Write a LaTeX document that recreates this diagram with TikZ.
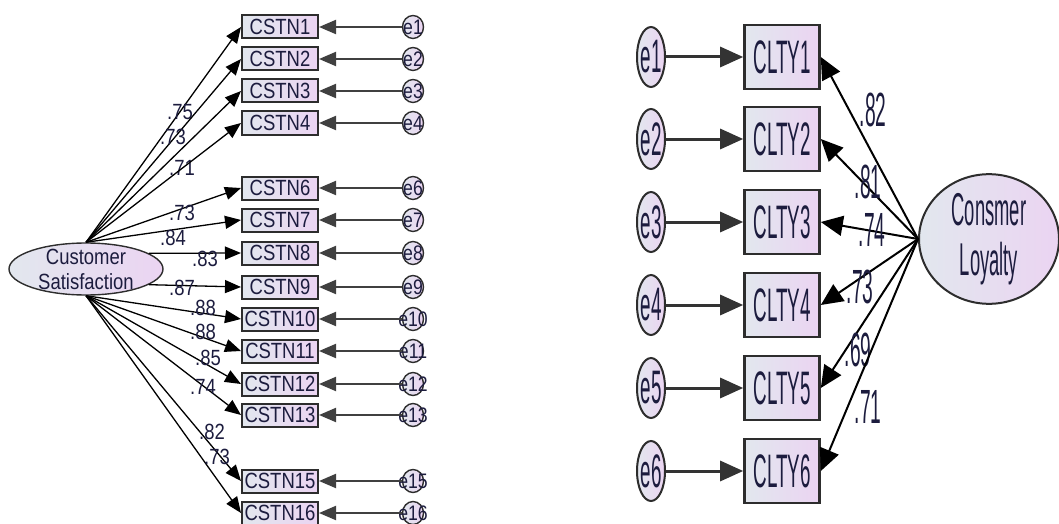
\documentclass[tikz,border=0pt]{standalone}
\usepackage{fontspec}
\usetikzlibrary{arrows.meta,shapes.geometric}
\newfontfamily\amosfont[FakeStretch=0.84]{Liberation Sans}
\newfontfamily\amostall[FakeStretch=0.4]{Liberation Sans}
\definecolor{boxl}{RGB}{226,231,238}
\definecolor{boxr}{RGB}{235,212,242}
\definecolor{ink}{RGB}{28,28,62}
\definecolor{rim}{RGB}{45,45,45}
\begin{document}
\begin{tikzpicture}[x=1pt, y=-1pt,
  obs/.style={rectangle, draw=rim, line width=2pt, left color=boxl, right color=boxr,
    minimum width=76pt, minimum height=23pt, inner sep=0pt, text=ink,
    font=\amosfont\fontsize{22}{24}\selectfont},
  err/.style={ellipse, draw=rim, line width=1.4pt, left color=boxl, right color=boxr,
    minimum width=21pt, minimum height=23pt, inner sep=0pt, inner xsep=-10pt, text=ink,
    font=\amosfont\fontsize{21}{22}\selectfont},
  lat/.style={ellipse, draw=rim, line width=1.4pt, left color=boxl, right color=boxr,
    minimum width=154pt, minimum height=52pt, inner sep=0pt, inner ysep=-8pt, align=center,
    text=ink, font=\amosfont\fontsize{22}{25}\selectfont},
  wt/.style={inner sep=0pt, text=ink, font=\amosfont\fontsize{22}{22}\selectfont},
  lod/.style={-{Triangle[length=16pt,width=13pt]}, line width=1.3pt, draw=black},
  res/.style={-{Triangle[length=17pt,width=14pt]}, line width=2pt, draw=black!75},
  obsb/.style={obs, line width=2.6pt, minimum width=75pt, minimum height=64pt,
    font=\amostall\fontsize{47}{50}\selectfont},
  errb/.style={err, line width=2pt, minimum width=28pt, minimum height=60pt, inner xsep=-4pt,
    font=\amostall\fontsize{47}{50}\selectfont},
  latb/.style={lat, line width=2pt, minimum width=140pt, minimum height=128pt, inner ysep=0pt,
    font=\amostall\fontsize{46}{50}\selectfont},
  wtb/.style={wt, font=\amostall\fontsize{48}{50}\selectfont},
  lodb/.style={-{Triangle[length=22pt,width=20pt]}, line width=2pt, draw=black},
  resb/.style={-{Triangle[length=23pt,width=20pt]}, line width=3pt, draw=black!80}]
  \useasboundingbox (0,0) rectangle (1059,524);

  % customer satisfaction
  \node[lat] (sat) at (86,269) {Customer\\Satisfaction};

  \node[obs] (cstn1) at (280,27) {CSTN1};
  \node[err] (es1) at (413,27) {e1};
  \path (es1) edge[res] (cstn1);
  \path (sat.north) edge[lod] (cstn1.west);
  \node[wt] (ws1) at (180,112) {.75};

  \node[obs] (cstn2) at (280,59) {CSTN2};
  \node[err] (es2) at (413,59) {e2};
  \path (es2) edge[res] (cstn2);
  \path (sat.north) edge[lod] (cstn2.west);
  \node[wt] (ws2) at (173,137) {.73};

  \node[obs] (cstn3) at (280,91) {CSTN3};
  \node[err] (es3) at (413,91) {e3};
  \path (es3) edge[res] (cstn3);
  \path (sat.north) edge[lod] (cstn3.west);
  \node[wt] (ws3) at (182,168) {.71};

  \node[obs] (cstn4) at (280,123) {CSTN4};
  \node[err] (es4) at (413,123) {e4};
  \path (es4) edge[res] (cstn4);
  \path (sat.north) edge[lod] (cstn4.west);

  \node[obs] (cstn6) at (280,188) {CSTN6};
  \node[err] (es6) at (413,188) {e6};
  \path (es6) edge[res] (cstn6);
  \path (sat.north) edge[lod] (cstn6.west);
  \node[wt] (ws6) at (182,213) {.73};

  \node[obs] (cstn7) at (280,220) {CSTN7};
  \node[err] (es7) at (413,220) {e7};
  \path (es7) edge[res] (cstn7);
  \path (sat.north) edge[lod] (cstn7.west);
  \node[wt] (ws7) at (173,238) {.84};

  \node[obs] (cstn8) at (280,253) {CSTN8};
  \node[err] (es8) at (413,253) {e8};
  \path (es8) edge[res] (cstn8);
  \path (sat.14) edge[lod] (cstn8.west);
  \node[wt] (ws8) at (205,259) {.83};

  \node[obs] (cstn9) at (280,287) {CSTN9};
  \node[err] (es9) at (413,287) {e9};
  \path (es9) edge[res] (cstn9);
  \path (sat.-14) edge[lod] (cstn9.west);
  \node[wt] (ws9) at (182,288) {.87};

  \node[obs] (cstn10) at (280,319) {CSTN10};
  \node[err] (es10) at (413,319) {e10};
  \path (es10) edge[res] (cstn10);
  \path (sat.south) edge[lod] (cstn10.west);
  \node[wt] (ws10) at (203,308) {.88};

  \node[obs] (cstn11) at (280,351) {CSTN11};
  \node[err] (es11) at (413,351) {e11};
  \path (es11) edge[res] (cstn11);
  \path (sat.south) edge[lod] (cstn11.west);
  \node[wt] (ws11) at (203,332) {.88};

  \node[obs] (cstn12) at (280,384) {CSTN12};
  \node[err] (es12) at (413,384) {e12};
  \path (es12) edge[res] (cstn12);
  \path (sat.south) edge[lod] (cstn12.west);
  \node[wt] (ws12) at (208,358) {.85};

  \node[obs] (cstn13) at (280,415) {CSTN13};
  \node[err] (es13) at (413,415) {e13};
  \path (es13) edge[res] (cstn13);
  \path (sat.south) edge[lod] (cstn13.west);
  \node[wt] (ws13) at (203,387) {.74};

  \node[obs] (cstn15) at (280,481) {CSTN15};
  \node[err] (es15) at (413,481) {e15};
  \path (es15) edge[res] (cstn15);
  \path (sat.south) edge[lod] (cstn15.west);
  \node[wt] (ws15) at (212,432) {.82};

  \node[obs] (cstn16) at (280,513) {CSTN16};
  \node[err] (es16) at (413,513) {e16};
  \path (es16) edge[res] (cstn16);
  \path (sat.south) edge[lod] (cstn16.west);
  \node[wt] (ws16) at (217,457) {.73};

  % consumer loyalty
  \node[latb] (loy) at (989,239) {Consmer\\Loyalty};

  \node[obsb] (clty1) at (782,57) {CLTY1};
  \node[errb] (el1) at (651,57) {e1};
  \path (el1) edge[resb] (clty1);
  \path (loy.west) edge[lodb] (clty1.east);
  \node[wtb] (wl1) at (873,110) {.82};

  \node[obsb] (clty2) at (782,139) {CLTY2};
  \node[errb] (el2) at (651,139) {e2};
  \path (el2) edge[resb] (clty2);
  \path (loy.west) edge[lodb] (clty2.east);
  \node[wtb] (wl2) at (868,182) {.81};

  \node[obsb] (clty3) at (782,222) {CLTY3};
  \node[errb] (el3) at (651,222) {e3};
  \path (el3) edge[resb] (clty3);
  \path (loy.west) edge[lodb] (clty3.east);
  \node[wtb] (wl3) at (872,230) {.74};

  \node[obsb] (clty4) at (782,305) {CLTY4};
  \node[errb] (el4) at (651,305) {e4};
  \path (el4) edge[resb] (clty4);
  \path (loy.west) edge[lodb] (clty4.east);
  \node[wtb] (wl4) at (860,287) {.73};

  \node[obsb] (clty5) at (782,388) {CLTY5};
  \node[errb] (el5) at (651,388) {e5};
  \path (el5) edge[resb] (clty5);
  \path (loy.west) edge[lodb] (clty5.east);
  \node[wtb] (wl5) at (858,350) {.69};

  \node[obsb] (clty6) at (782,471) {CLTY6};
  \node[errb] (el6) at (651,471) {e6};
  \path (el6) edge[resb] (clty6);
  \path (loy.west) edge[lodb] (clty6.east);
  \node[wtb] (wl6) at (868,407) {.71};
\end{tikzpicture}
\end{document}
